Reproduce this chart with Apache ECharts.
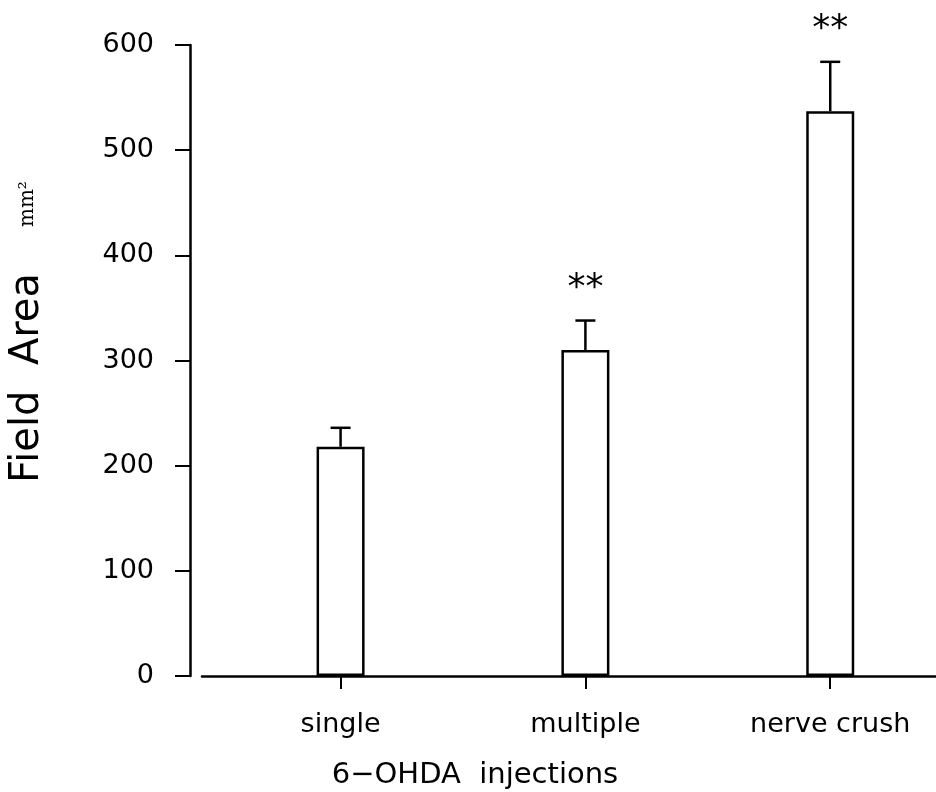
<!DOCTYPE html>
<html>
<head>
<meta charset="utf-8">
<style>
  html, body { margin: 0; padding: 0; background: #fff; }
  #chart { width: 936px; height: 792px; }
</style>
</head>
<body>
<div id="chart"></div>
<script src="https://cdn.jsdelivr.net/npm/echarts@6/dist/echarts.min.js"></script>
<script>
    // data
    var categories = ['single', 'multiple', 'nerve crush'];
    var means = [218, 310, 537];
    var upper = [236, 338, 584];      // top of the error bar
    var stars = ['', '**', '**'];
    var yTicks = [0, 100, 200, 300, 400, 500, 600];

    var chart = echarts.init(document.getElementById('chart'));

    var barData = means.map(function (v, i) { return [i, v]; });
    var errData = means.map(function (v, i) { return [i, v, upper[i], stars[i]]; });

    var option = {
        animation: false,
        backgroundColor: '#fff',
        title: {
            text: '6\u2212OHDA  injections',
            left: 470,
            top: 756,
            textAlign: 'center',
            textStyle: { fontFamily: 'DejaVu Sans', fontSize: 29, fontWeight: 'normal', color: '#000' }
        },
        grid: { left: 200, right: 0, top: 45, bottom: 116 },
        xAxis: {
            type: 'value',
            min: -0.566,
            max: 2.432,
            splitLine: { show: false },
            axisLine: { onZero: false, lineStyle: { color: '#000', width: 2.5 } },
            axisTick: { customValues: [0, 1, 2], length: 13, lineStyle: { color: '#000', width: 2 } },
            axisLabel: {
                customValues: [0, 1, 2],
                margin: 35,
                formatter: function (v) { return categories[Math.round(v)]; },
                fontFamily: 'DejaVu Sans',
                fontSize: 27,
                color: '#000'
            }
        },
        yAxis: {
            type: 'value',
            min: 0,
            max: 600,
            interval: 100,
            offset: 12,
            name: '{a|Field  Area}{g| }{b|mm\u00b2}',
            nameLocation: 'middle',
            nameGap: 142,
            nameRotate: 90,
            nameTextStyle: {
                padding: [0, 0, 0, 57],
                rich: {
                    a: { fontFamily: 'DejaVu Sans', fontSize: 40, color: '#000' },
                    g: { width: 46, fontSize: 12 },
                    b: { fontFamily: 'DejaVu Serif', fontSize: 20, color: '#000' }
                }
            },
            splitLine: { show: false },
            axisLine: { show: true, onZero: false, lineStyle: { color: '#000', width: 2.5 } },
            axisTick: { show: true, length: 15, lineStyle: { color: '#000', width: 2 } },
            axisLabel: {
                margin: 36,
                fontFamily: 'DejaVu Sans',
                fontSize: 27,
                color: '#000',
                formatter: function (v) { return yTicks.indexOf(v) >= 0 ? String(v) : ''; }
            }
        },
        series: [
            {
                type: 'bar',
                data: barData,
                barWidth: 48,
                itemStyle: { color: '#fff', borderColor: '#000', borderWidth: 2.5 }
            },
            {
                type: 'custom',
                data: errData,
                z: 5,
                renderItem: function (params, api) {
                    var x = api.value(0);
                    var lo = api.coord([x, api.value(1)]);
                    var hi = api.coord([x, api.value(2)]);
                    var label = stars[params.dataIndex];
                    var children = [
                        { type: 'line', shape: { x1: lo[0], y1: lo[1], x2: hi[0], y2: hi[1] }, style: { stroke: '#000', lineWidth: 2.5 } },
                        { type: 'line', shape: { x1: hi[0] - 10, y1: hi[1], x2: hi[0] + 10, y2: hi[1] }, style: { stroke: '#000', lineWidth: 2.5 } }
                    ];
                    if (label) {
                        children.push({
                            type: 'text',
                            style: {
                                text: label, x: hi[0], y: hi[1] - 32,
                                align: 'center', verticalAlign: 'middle',
                                font: '36px DejaVu Sans', fill: '#000'
                            }
                        });
                    }
                    return { type: 'group', children: children };
                }
            }
        ]
    };

    chart.setOption(option);
</script>
</body>
</html>
